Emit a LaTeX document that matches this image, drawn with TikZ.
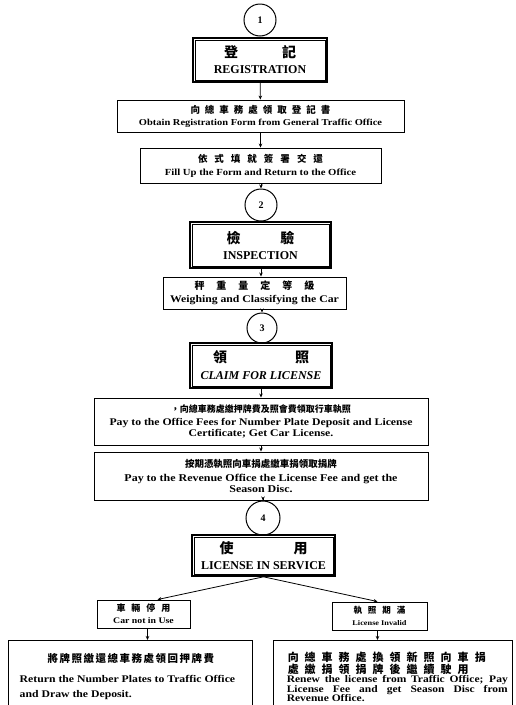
\documentclass[tikz,border=0pt]{standalone}
\usepackage{fontspec}
\setmainfont{Liberation Serif}[FakeStretch=1.15]
\newfontfamily\titlefont{Liberation Serif}
\newfontfamily\cjk{Noto Sans CJK TC}
\usetikzlibrary{arrows.meta}
\newcommand\zh[1]{{\cjk\bfseries #1}}
\newcommand\fs[1]{\fontsize{#1}{#1}\selectfont}
\tikzset{
  every node/.style={inner sep=0pt, align=center},
  stepbox/.style={draw, line width=0.9pt},
  mainbox/.style={draw, line width=1.6pt},
  maintitle/.style={font=\titlefont\bfseries\fontsize{12}{13}\selectfont},
  numcirc/.style={draw, circle, line width=1pt, font=\titlefont\bfseries\fontsize{10}{10}\selectfont},
  conn/.style={line width=0.8pt, -{Stealth[length=4pt,width=3.5pt]}},
  link/.style={line width=0.8pt},
  innerframe/.style={line width=0.5pt},
}
\begin{document}
\begin{tikzpicture}[x=1pt,y=-1pt]
\useasboundingbox (0,0) rectangle (516,705);
\clip (0,0) rectangle (516,705);
% circles
\node[numcirc, minimum size=32pt] (c1) at (260,20) {1};
\node[numcirc, minimum size=32pt] (c2) at (261,205) {2};
\node[numcirc, minimum size=30pt] (c3) at (262,328) {3};
\node[numcirc, minimum size=34pt] (c4) at (263,518) {4};
% main boxes
\node[mainbox, minimum width=134pt, minimum height=44pt, maintitle] (reg) at (260,60)
  {\zh{\fs{14}登\hspace{44pt}記}\\[3pt]REGISTRATION};
\node[mainbox, minimum width=141pt, minimum height=46pt, maintitle] (insp) at (260.5,245)
  {\zh{\fs{14}檢\hspace{40pt}驗}\\[3pt]INSPECTION};
\node[mainbox, minimum width=142pt, minimum height=45pt, maintitle] (claim) at (261,365.5)
  {\zh{\fs{14}領\hspace{68pt}照}\\[4pt]\textit{CLAIM FOR LICENSE}};
\node[mainbox, minimum width=143pt, minimum height=41pt, maintitle] (serv) at (263.5,555.5)
  {\zh{\fs{14}使\hspace{60pt}用}\\[3pt]LICENSE IN SERVICE};
\foreach \n in {reg,insp,claim,serv}{
  \draw[innerframe] ([shift={(2.8,2.8)}]\n.north west) rectangle ([shift={(-2.8,-2.8)}]\n.south east);
}
% step boxes
\node[stepbox, minimum width=287pt, minimum height=32pt, font=\bfseries\fontsize{9.1}{12}\selectfont] (obtain) at (260.5,116)
  {\zh{\fs{9.5}向\hspace{5pt}總\hspace{5pt}車\hspace{5pt}務\hspace{5pt}處\hspace{5pt}領\hspace{5pt}取\hspace{5pt}登\hspace{5pt}記\hspace{5pt}書}\\Obtain Registration Form from General Traffic Office};
\node[stepbox, minimum width=241pt, minimum height=35pt, font=\bfseries\fontsize{9.3}{13}\selectfont] (fill) at (260.5,165.5)
  {\zh{\fs{9.5}依\hspace{7pt}式\hspace{7pt}填\hspace{7pt}就\hspace{7pt}簽\hspace{7pt}署\hspace{7pt}交\hspace{7pt}還}\\Fill Up the Form and Return to the Office};
\node[stepbox, minimum width=183pt, minimum height=32pt, font=\bfseries\fontsize{10.2}{13}\selectfont] (weigh) at (254.5,293)
  {\zh{\fs{10}秤\hspace{12pt}重\hspace{12pt}量\hspace{12pt}定\hspace{12pt}等\hspace{12pt}級}\\Weighing and Classifying the Car};
\node[stepbox, minimum width=334pt, minimum height=47pt, font=\bfseries\fontsize{10.2}{11.5}\selectfont] (pay) at (261,421.5)
  {\zh{\fs{9}，向總車務處繳押牌費及照會費領取行車執照}\\[1pt]Pay to the Office Fees for Number Plate Deposit and License\\Certificate; Get Car License.};
\node[stepbox, minimum width=334pt, minimum height=48pt, font=\bfseries\fontsize{10.4}{11.5}\selectfont] (rev) at (261,476)
  {\zh{\fs{9.5}按期憑執照向車捐處繳車捐領取捐牌}\\[2pt]Pay to the Revenue Office the License Fee and get the\\Season Disc.};
\node[stepbox, minimum width=93pt, minimum height=28pt, font=\bfseries\fontsize{8.5}{12}\selectfont] (carnot) at (143.5,614)
  {\zh{\fs{9}車\hspace{6pt}輛\hspace{6pt}停\hspace{6pt}用}\\Car not in Use};
\node[stepbox, minimum width=95pt, minimum height=28pt, font=\bfseries\fontsize{7.2}{12}\selectfont] (invalid) at (379.5,616)
  {\zh{\fs{8.5}執\hspace{6pt}照\hspace{6pt}期\hspace{6pt}滿}\\License Invalid};
% bottom boxes (run past the lower edge)
\node[draw, line width=0.9pt, minimum width=244pt, minimum height=80pt, anchor=north] (lb) at (130,640) {};
\node[draw, line width=0.9pt, minimum width=239pt, minimum height=80pt, anchor=north] (rb) at (392.5,640) {};
\node[anchor=north west, font=\bfseries\fontsize{10.2}{15}\selectfont, align=left] (lbt) at ([xshift=12pt,yshift=-13pt]lb.north west)
  {\hspace{28pt}\zh{\fs{10.5}將\hspace{1.5pt}牌\hspace{1.5pt}照\hspace{1.5pt}繳\hspace{1.5pt}還\hspace{1.5pt}總\hspace{1.5pt}車\hspace{1.5pt}務\hspace{1.5pt}處\hspace{1.5pt}領\hspace{1.5pt}回\hspace{1.5pt}押\hspace{1.5pt}牌\hspace{1.5pt}費}\\[5pt]
   Return the Number Plates to Traffic Office\\and Draw the Deposit.};
\node[anchor=north west, font=\bfseries\fontsize{10}{9.4}\selectfont, align=justify, text width=221pt] (rbt) at ([xshift=14pt,yshift=-12pt]rb.north west)
  {{\raggedright\zh{\fontsize{11}{12}\selectfont \hspace{1pt}向\hspace{6pt}總\hspace{6pt}車\hspace{6pt}務\hspace{6pt}處\hspace{6pt}換\hspace{6pt}領\hspace{6pt}新\hspace{6pt}照\hspace{6pt}向\hspace{6pt}車\hspace{6pt}捐\\\hspace{1pt}處\hspace{6pt}繳\hspace{6pt}捐\hspace{6pt}領\hspace{6pt}捐\hspace{6pt}牌\hspace{6pt}後\hspace{6pt}繼\hspace{6pt}續\hspace{6pt}駛\hspace{6pt}用}\par}
   Renew the license from Traffic Office; Pay\linebreak License Fee and get Season Disc from\linebreak Revenue Office.};
% connectors
\draw[link] (c1) -- (reg);
\draw[conn] (reg) -- (obtain);
\draw[conn] (obtain) -- (fill);
\draw[conn] (fill.south -| c2) -- (c2);
\draw[link] (c2) -- (insp);
\draw[conn] (insp.south -| c2) -- (weigh.north -| c2);
\draw[conn] (weigh.south -| c3) -- (c3);
\draw[link] (c3) -- (claim);
\draw[conn] (claim) -- (pay);
\draw[conn] (pay) -- (rev);
\draw[conn] (rev.south -| c4) -- (c4);
\draw[link] (c4) -- (serv);
\draw[conn] (serv.south) -- ([xshift=14]carnot.north);
\draw[conn] (serv.south) -- ([xshift=-2]invalid.north);
\draw[conn] ([xshift=4]carnot.south) -- ([xshift=4]carnot.south |- lb.north);
\draw[conn] ([xshift=-2]invalid.south) -- ([xshift=-2]invalid.south |- rb.north);
\end{tikzpicture}
\end{document}
